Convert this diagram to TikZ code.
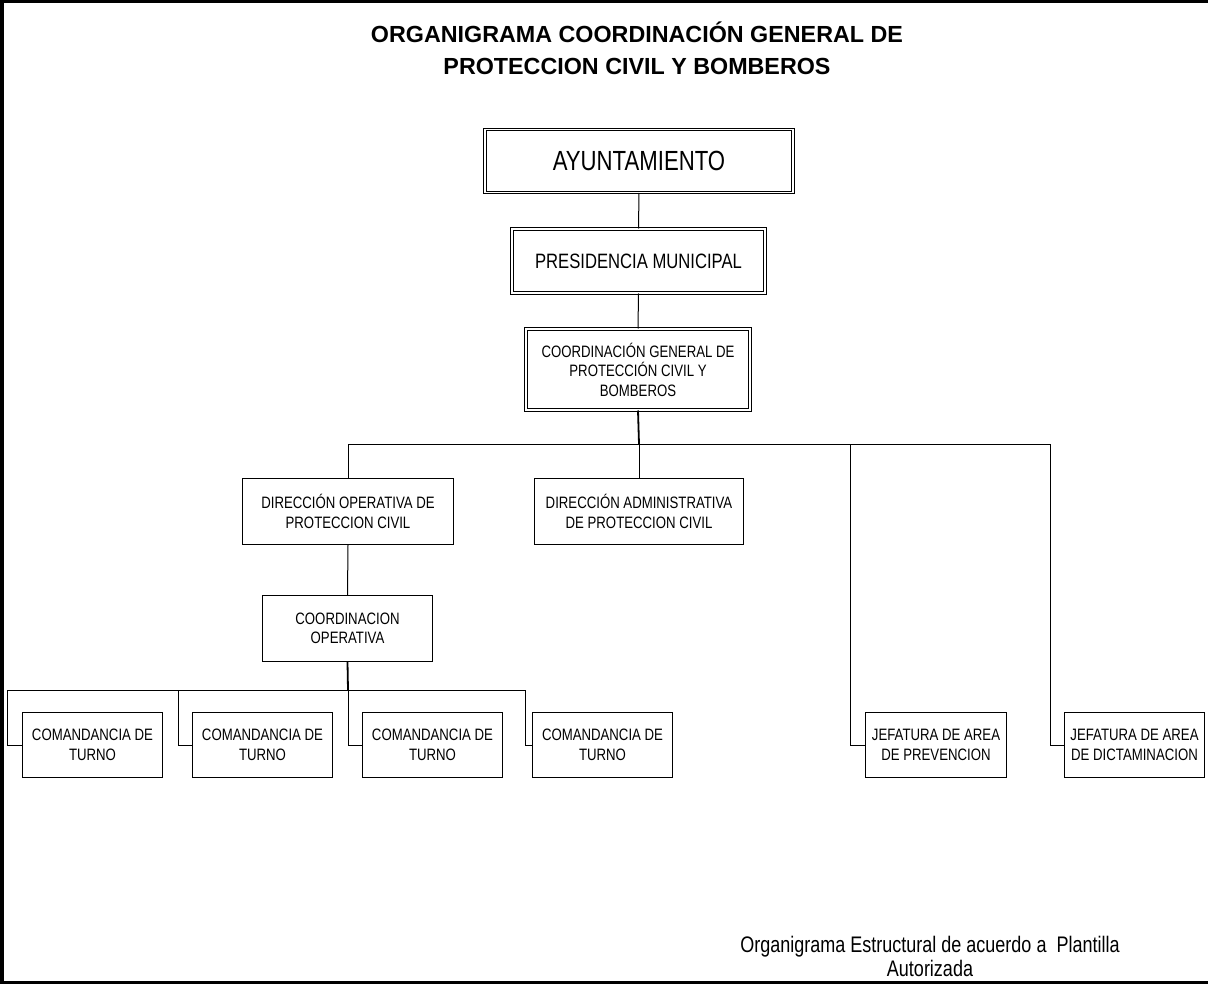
\documentclass[tikz,border=0pt]{standalone}
\usepackage{fontspec}
\setmainfont{Liberation Sans}
\newfontfamily\narrowfont[FakeStretch=0.8]{Liberation Sans}
\usetikzlibrary{positioning}
\tikzset{
  box/.style={draw, line width=1pt, inner sep=0pt, align=center,
    font=\narrowfont\fontsize{16.5}{19.5}\selectfont},
  dbox/.style={draw, double, double distance=1.8pt, line width=1pt, inner sep=0pt, align=center,
    font=\narrowfont\fontsize{16.5}{19.5}\selectfont},
  conn/.style={line width=1pt},
  thickconn/.style={line width=1.8pt},
  frame/.style={line width=3pt}
}
\begin{document}
\begin{tikzpicture}[x=1pt,y=-1pt]
\useasboundingbox (0,0) rectangle (1208,984);
% frame
\draw[frame] (0,1.5) -- (1208,1.5);
\draw[line width=4pt] (2,0) -- (2,984);
\draw[frame] (0,982.5) -- (1208,982.5);

% title
\node[font=\bfseries\fontsize{23.3}{32}\selectfont, align=center] (title) at (637,48)
  {ORGANIGRAMA COORDINACIÓN GENERAL DE\\PROTECCION CIVIL Y BOMBEROS};

% nodes
\node[dbox, minimum width=308, minimum height=63, font=\narrowfont\fontsize{27.7}{30}\selectfont] (ayun) at (639,161) {AYUNTAMIENTO};
\node[dbox, minimum width=253, minimum height=64, font=\narrowfont\fontsize{20.8}{24}\selectfont] (pres) at (638.5,261) {PRESIDENCIA MUNICIPAL};
\node[dbox, minimum width=224, minimum height=81] (cgen) at (638,369.5) {COORDINACIÓN GENERAL DE\\PROTECCIÓN CIVIL Y\\BOMBEROS};

\node[box, minimum width=211, minimum height=66] (dirop) at (348,511.5) {DIRECCIÓN OPERATIVA DE\\PROTECCION CIVIL};
\node[box, minimum width=209, minimum height=66] (diradm) at (639,511.5) {DIRECCIÓN ADMINISTRATIVA\\DE PROTECCION CIVIL};
\node[box, minimum width=170, minimum height=66] (coordop) at (347.5,628.5) {COORDINACION\\OPERATIVA};

\node[box, minimum width=140, minimum height=65] (com1) at (92.5,745) {COMANDANCIA DE\\TURNO};
\node[box, minimum width=140, minimum height=65] (com2) at (262.5,745) {COMANDANCIA DE\\TURNO};
\node[box, minimum width=140, minimum height=65] (com3) at (432.5,745) {COMANDANCIA DE\\TURNO};
\node[box, minimum width=140, minimum height=65] (com4) at (602.5,745) {COMANDANCIA DE\\TURNO};

\node[box, minimum width=141, minimum height=65] (jef1) at (936,745) {JEFATURA DE AREA\\DE PREVENCION};
\node[box, minimum width=140, minimum height=65] (jef2) at (1134.5,745) {JEFATURA DE AREA\\DE DICTAMINACION};

% footer
\node[font=\narrowfont\fontsize{22.5}{24}\selectfont, align=center] (foot) at (930,956)
  {Organigrama Estructural de acuerdo a~ Plantilla\\Autorizada};

% connectors
\coordinate (bus1) at (639,444);
\coordinate (bus2) at (348,690);
\draw[conn] (ayun.south) -- (pres.north);
\draw[conn] (pres.south) -- (cgen.north);
\draw[thickconn] (cgen.south) -- (bus1);
\draw[conn] (bus1) -| (dirop.north);
\draw[conn] (bus1) -- (diradm.north);
\draw[conn] (bus1) -| ([xshift=-15pt]jef1.west) -- (jef1.west);
\draw[conn] (bus1) -| ([xshift=-14pt]jef2.west) -- (jef2.west);
\draw[conn] (dirop.south) -- (coordop.north);
\draw[thickconn] (coordop.south) -- (bus2);
\draw[conn] (bus2) -| ([xshift=-15pt]com1.west) -- (com1.west);
\draw[conn] (bus2) -| ([xshift=-14pt]com2.west) -- (com2.west);
\draw[conn] (bus2) -| ([xshift=-14pt]com3.west) -- (com3.west);
\draw[conn] (bus2) -| ([xshift=-7pt]com4.west) -- (com4.west);
\end{tikzpicture}
\end{document}
